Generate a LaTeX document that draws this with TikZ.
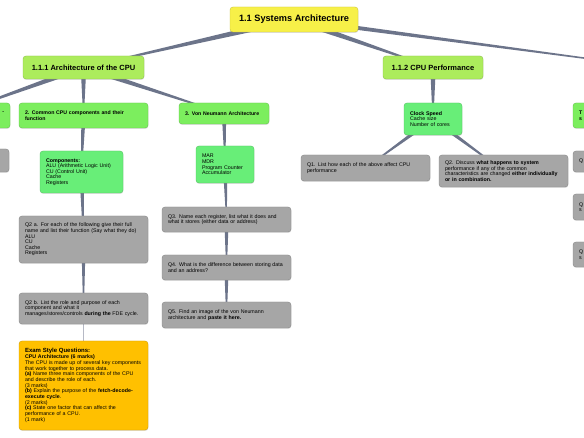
\documentclass[tikz,border=0pt]{standalone}
\usepackage{fontspec}
\setmainfont{Liberation Sans}
\usepackage{tikz}
\usetikzlibrary{calc}
\usetikzlibrary{positioning}
\usetikzlibrary{shadows}
\usetikzlibrary{backgrounds}

\definecolor{rootc}{RGB}{247,240,72}
\definecolor{topicc}{RGB}{172,236,92}
\definecolor{branchc}{RGB}{124,238,94}
\definecolor{leafc}{RGB}{104,238,120}
\definecolor{quesc}{RGB}{166,166,166}
\definecolor{examc}{RGB}{255,192,0}
\definecolor{linkc}{RGB}{108,116,138}
\newcommand{\nohyph}{\hyphenpenalty 10000\relax}

\begin{document}
\begin{tikzpicture}[x=1pt, y=-1pt, on grid,                                          % pixel grid, y downwards
        box/.style = {rectangle, rounded corners=3pt, draw=#1!82!black, fill=#1, line width=0.4pt,
                      drop shadow={shadow xshift=0.3pt, shadow yshift=-0.9pt, opacity=0.25},
                      inner xsep=6pt, inner ysep=1pt, align=left},
        root/.style = {box=rootc, font=\fontsize{9.2}{11}\selectfont\bfseries, minimum width=128pt, minimum height=25pt, align=center},
        topic/.style = {box=topicc, font=\fontsize{7.5}{9}\selectfont\bfseries, minimum height=23pt, align=center},
        branch/.style = {box=branchc, font=\fontsize{5.2}{5.6}\selectfont\bfseries\nohyph},
        leaf/.style = {box=leafc, font=\fontsize{5.3}{5.6}\selectfont\nohyph},
        question/.style = {box=quesc, text width=117pt, font=\fontsize{5.3}{5.6}\selectfont\nohyph},
        exam/.style = {box=examc, text width=117pt, font=\fontsize{5.3}{5.7}\selectfont\nohyph},
        taper/.style = {to path={($(\tikztostart)!#1!90:(\tikztotarget)$) -- ($(\tikztostart)!#1!-90:(\tikztotarget)$)
                          -- ($(\tikztotarget)!0.4pt!90:(\tikztostart)$) -- ($(\tikztotarget)!0.4pt!-90:(\tikztostart)$) -- cycle}},
        taper/.default = 2.2pt]
    \useasboundingbox (0,0) rectangle (584,438);
    % main topic and first level
    \node[root] (sys) at (294,19.5) {1.1 Systems Architecture};
    \node[topic, minimum width=121pt] (arch) at (83.5,67.5) {1.1.1 Architecture of the CPU};
    \node[topic, minimum width=100pt] (perf) at (433,67.5) {1.1.2 CPU Performance};
    \coordinate (sys3) at (655,67.5);
    % 1.1.1 branches
    \node[branch, text width=108pt, minimum height=25pt, align=right] (purp) at (-50,115.5) {-\\\mbox{}};
    \node[question, text width=117pt, minimum height=23pt] (purpq) at (-55.5,160.5) {};
    \node[branch, text width=117pt, minimum height=25pt] (comp) at (83.5,115.5) {2. Common CPU components and their\\function};
    \node[branch, text width=78pt, minimum height=21pt] (vonn) at (224,113.5) {3. Von Neumann Architecture};
    \node[leaf, text width=71pt, minimum height=42pt] (parts) at (81.5,172)
        {\textbf{Components:}\\ALU (Arithmetic Logic Unit)\\CU (Control Unit)\\Cache\\Registers};
    \node[question, minimum height=47pt] (q2a) at (83.5,239.5)
        {Q2 a.  For each of the following give their full\\name and list their function (Say what they do)\\ALU\\CU\\Cache\\Registers};
    \node[question, minimum height=31pt] (q2b) at (83.5,308.5)
        {Q2 b.  List the role and purpose of each\\component and what it\\manages/stores/controls \textbf{during the} FDE cycle.};
    \node[exam, minimum height=89pt] (exam) at (83.5,385.5)
        {{\fontsize{6}{7}\selectfont\bfseries Exam Style Questions:}\\\textbf{CPU Architecture (6 marks)}\\
         The CPU is made up of several key components\\that work together to process data.\\
         \textbf{(a)} Name three main components of the CPU\\and describe the role of each.\\(3 marks)\\
         \textbf{(b)} Explain the purpose of the \textbf{fetch-decode-}\\\textbf{execute cycle}.\\(2 marks)\\
         \textbf{(c)} State one factor that can affect the\\performance of a CPU.\\(1 mark)};
    \node[leaf, text width=46pt, minimum height=37pt] (regs) at (225,164.5) {MAR\\MDR\\Program Counter\\Accumulator};
    \node[question, minimum height=25pt] (q3) at (226.5,219.5)
        {Q3. Name each register, list what it does and\\what it stores (either data or address)};
    \node[question, minimum height=25pt] (q4) [below=48pt of q3]
        {Q4.  What is the difference between storing data\\and an address?};
    \node[question, minimum height=26pt] (q5) [below=47.5pt of q4]
        {Q5. Find an image of the von Neumann\\architecture and \textbf{paste it here.}};
    % 1.1.2 branches
    \node[leaf, text width=46pt, minimum height=32pt] (clock) at (433,119) {\textbf{Clock Speed}\\Cache size\\Number of cores};
    \node[question, minimum height=26pt] (q1) at (365.5,168) {Q1. List how each of the above affect CPU\\performance};
    \node[question, minimum height=32pt] (q2) at (503.5,171)
        {Q2. Discuss \textbf{what happens to system}\\performance if any of the common\\characteristics are changed \textbf{either individually}\\\textbf{or in combination.}};
    % 1.1.3 branches (cut off)
    \node[branch, text width=115pt, minimum height=25pt] (trend) at (636.5,115.5) {T\\s};
    \node[question, text width=115pt, minimum height=21pt] (tq1) at (636.5,161.5) {Q};
    \node[question, text width=115pt, minimum height=26pt] (tq2) at (636.5,207) {Q\\s};
    \node[question, text width=115pt, minimum height=25pt] (tq3) at (636.5,254.5) {Q\\s};
    %edge:tapered
    \begin{scope}[on background layer, every edge/.style={fill=linkc, draw=none}]
        \fill[white] (0,0) rectangle (584,438);
        \path
            (sys) edge[taper=3.2pt] (arch)
            (sys) edge[taper=3.2pt] (perf)
            (sys) edge[taper=2.3pt] (sys3)
            (arch) edge[taper=2.8pt] (purp)
            (arch) edge[taper=2.8pt] (comp)
            (arch) edge[taper=2.8pt] (vonn)
            (perf) edge[taper=2.8pt] (clock)
            (comp) edge[taper] (parts)
            (parts) edge[taper] (q2a)
            (q2a) edge[taper] (q2b)
            (vonn) edge[taper] (regs)
            (regs) edge[taper] (q3)
            (q3) edge[taper] (q4)
            (q4) edge[taper] (q5)
            (clock) edge[taper] (q1)
            (clock) edge[taper] (q2);
        \draw[linkc!50, line width=0.4pt] (q2b) -- (exam);
    \end{scope}
\end{tikzpicture}
\end{document}
